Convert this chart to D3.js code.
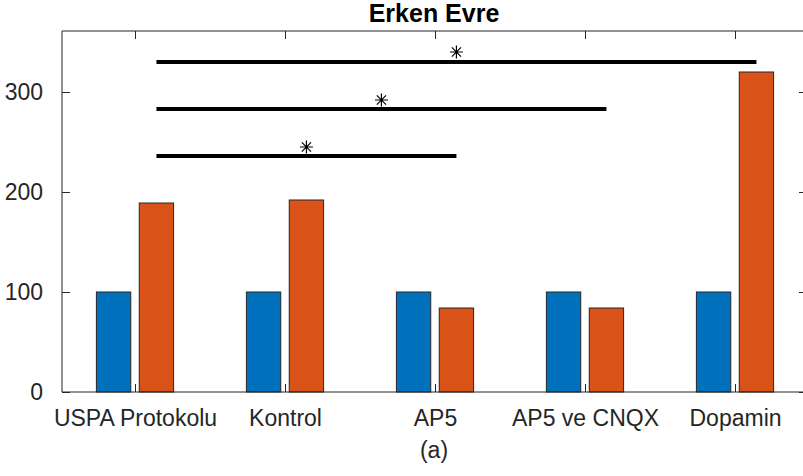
<!DOCTYPE html>
<html>
<head>
<meta charset="utf-8">
<script src="https://cdn.jsdelivr.net/npm/d3@7"></script>
<style>
  body { margin: 0; background: #fff; }
  svg { font-family: "Liberation Sans", Arial, Helvetica, sans-serif; }
  .tick text { fill: #262626; font-size: 23px; }
  .tick line { stroke: #262626; }
</style>
</head>
<body>
<svg width="803" height="476"></svg>
<script>
// veriler
const categories = ["USPA Protokolu", "Kontrol", "AP5", "AP5 ve CNQX", "Dopamin"];
const before = [100, 100, 100, 100, 100];
const early = [189, 192, 84, 84, 320];
// anlamlilik cizgileri: grup 1 ile hangi grup
const sigTo = [3, 4, 5];
const sigLineY = [236, 283, 330];
const sigStarY = [245, 292, 340];
const yTicks = [0, 100, 200, 300];

const svg = d3.select("svg");
const pL = 62, pR = 807, pT = 31, pB = 392;

const x = d3.scaleLinear().domain([0.5, 5.5]).range([60, 810]);
const y = d3.scaleLinear().domain([0, 361]).range([pB, pT]);

const off = 1 / 7, bw = 0.229;

// eksenler (ice dogru tikler)
svg.append("g")
    .attr("transform", `translate(${pL},0)`)
    .call(d3.axisLeft(y).tickValues(yTicks).tickSize(-8).tickPadding(19))
    .call(g => g.select(".domain").remove());
svg.append("g")
    .attr("transform", `translate(${pR},0)`)
    .call(d3.axisRight(y).tickValues(yTicks).tickSize(-8).tickFormat(""))
    .call(g => g.select(".domain").remove());
svg.append("g")
    .attr("transform", `translate(0,${pT})`)
    .call(d3.axisTop(x).tickValues(d3.range(1, 6)).tickSize(-8).tickFormat(""))
    .call(g => g.select(".domain").remove());
svg.append("g")
    .attr("transform", `translate(0,${pB})`)
    .call(d3.axisBottom(x).tickValues(d3.range(1, 6)).tickSize(-8).tickPadding(18)
        .tickFormat(d => categories[d - 1]))
    .call(g => g.select(".domain").remove());

// cubuklar
const bars = svg.append("g");
bars.selectAll(".b1")
    .data(before)
    .enter()
    .append("rect")
    .attr("x", (d, i) => x(i + 1 - off - bw / 2))
    .attr("width", x(bw) - x(0))
    .attr("y", d => y(d))
    .attr("height", d => y(0) - y(d))
    .attr("fill", "#0072BD")
    .attr("stroke", "#262626");
bars.selectAll(".b2")
    .data(early)
    .enter()
    .append("rect")
    .attr("x", (d, i) => x(i + 1 + off - bw / 2))
    .attr("width", x(bw) - x(0))
    .attr("y", d => y(d))
    .attr("height", d => y(0) - y(d))
    .attr("fill", "#D95319")
    .attr("stroke", "#262626");

// cerceve
svg.append("path")
    .attr("d", `M${pR},${pB}H${pL}V${pT}H${pR}`)
    .attr("fill", "none")
    .attr("stroke", "#262626");

// anlamlilik cizgileri ve yildizlar
svg.selectAll(".sig")
    .data(sigTo)
    .enter()
    .append("line")
    .attr("x1", x(1 + off))
    .attr("x2", d => x(d + off))
    .attr("y1", (d, i) => y(sigLineY[i]))
    .attr("y2", (d, i) => y(sigLineY[i]))
    .attr("stroke", "#000")
    .attr("stroke-width", 4);

const star = svg.selectAll(".star")
    .data(sigTo)
    .enter()
    .append("g")
    .attr("transform", (d, i) => `translate(${x((1 + d) / 2 + off)},${y(sigStarY[i])})`);
const r = 6.5, rd = 4.6;
star.append("path")
    .attr("d", `M0,${-r}V${r}M${-r},0H${r}M${-rd},${-rd}L${rd},${rd}M${-rd},${rd}L${rd},${-rd}`)
    .attr("stroke", "#000")
    .attr("stroke-width", 1.2)
    .attr("fill", "none");

// baslik ve x etiketi
svg.append("text")
    .attr("x", 434)
    .attr("y", 22)
    .attr("text-anchor", "middle")
    .attr("font-weight", "bold")
    .attr("font-size", 25)
    .attr("fill", "#000")
    .text("Erken Evre");
svg.append("text")
    .attr("x", 434)
    .attr("y", 458)
    .attr("text-anchor", "middle")
    .attr("font-size", 23)
    .attr("fill", "#262626")
    .text("(a)");
</script>
</body>
</html>
